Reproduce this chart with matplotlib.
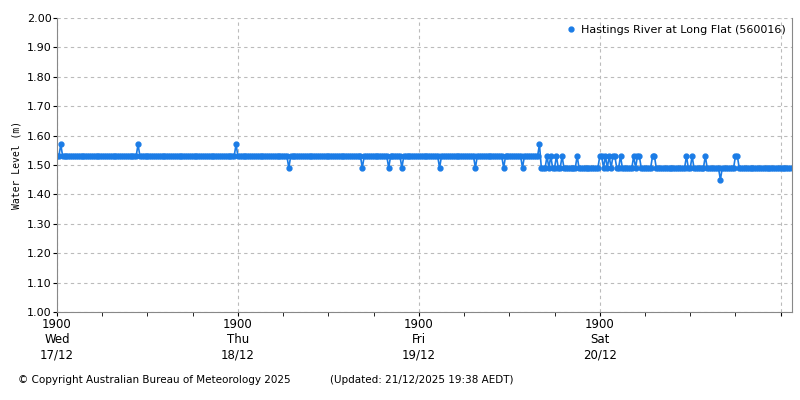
import numpy as np
import matplotlib.pyplot as plt

# hours since Wed 17/12 19:00, 15-minute readings
start_hour = 0.0
end_hour = 97.25
step_hours = 0.25

# base level before/after the drop around Fri evening
base_early = 1.53
base_late = 1.49
base_change_hour = 64.25

high_hours = [0.5, 10.75, 23.75, 64.0]          # readings at 1.57
dip_hours = [30.75, 40.5, 44.0, 45.75, 50.75, 55.5, 59.25, 61.75]  # 1.49 during early period
spike_hours = [65.0, 65.5, 66.25, 67.0, 69.0, 72.0, 72.25, 72.75, 73.25, 73.75,
               74.0, 74.75, 76.5, 77.0, 77.25, 79.0, 79.25, 83.5, 84.25, 86.0,
               90.0, 90.25]                     # 1.53 during late period
low_hours = [88.0]                              # 1.45

hours = np.arange(start_hour, end_hour + step_hours / 2, step_hours)
level = np.where(hours < base_change_hour, base_early, base_late)
for h in high_hours:
    level[np.isclose(hours, h)] = 1.57
for h in dip_hours:
    level[np.isclose(hours, h)] = 1.49
for h in spike_hours:
    level[np.isclose(hours, h)] = 1.53
for h in low_hours:
    level[np.isclose(hours, h)] = 1.45

tick_hours = [0, 24, 48, 72, 96]
tick_labels = ["1900\nWed\n17/12", "1900\nThu\n18/12", "1900\nFri\n19/12", "1900\nSat\n20/12", ""]

fig = plt.figure(figsize=(8, 4), dpi=100)
ax = fig.add_axes([57 / 800, 1 - 312 / 400, 735 / 800, 294 / 400])
color = "#1b7ce6"
ax.plot(hours, level, color=color, lw=1.2, marker="o", ms=3.5,
        label="Hastings River at Long Flat (560016)")

ax.set_xlim(0, 97.5)
ax.set_ylim(1.0, 2.0)
ax.set_yticks(np.arange(1.0, 2.001, 0.1))
ax.set_yticklabels([f"{v:.2f}" for v in np.arange(1.0, 2.001, 0.1)], fontsize=8)
ax.set_xticks(tick_hours)
ax.set_xticklabels(tick_labels, fontsize=8.5, linespacing=1.25)
ax.set_xticks(np.arange(0, 97.5, 6), minor=True)
ax.tick_params(axis="x", which="both", length=3, pad=1)
ax.tick_params(axis="y", length=3, pad=1)
ax.grid(True, color="#bbbbbb", linestyle=(0, (3, 3)), lw=0.8)
ax.spines["top"].set_visible(False)
for s in ["left", "bottom", "right"]:
    ax.spines[s].set_color("#888888")
ax.set_ylabel("Water Level (m)", family="DejaVu Sans Mono", fontsize=7)

leg = ax.legend(loc="upper right", frameon=False, fontsize=8, handlelength=0.6,
                handletextpad=0.6, borderaxespad=0.2)
for line in leg.get_lines():
    line.set_linestyle("none")

fig.text(18 / 800, 1 - 380 / 400, "\u00a9 Copyright Australian Bureau of Meteorology 2025", fontsize=7.5, va="center")
fig.text(330 / 800, 1 - 380 / 400, "(Updated: 21/12/2025 19:38 AEDT)", fontsize=7.5, va="center")

fig.savefig("out.png", dpi=100)
